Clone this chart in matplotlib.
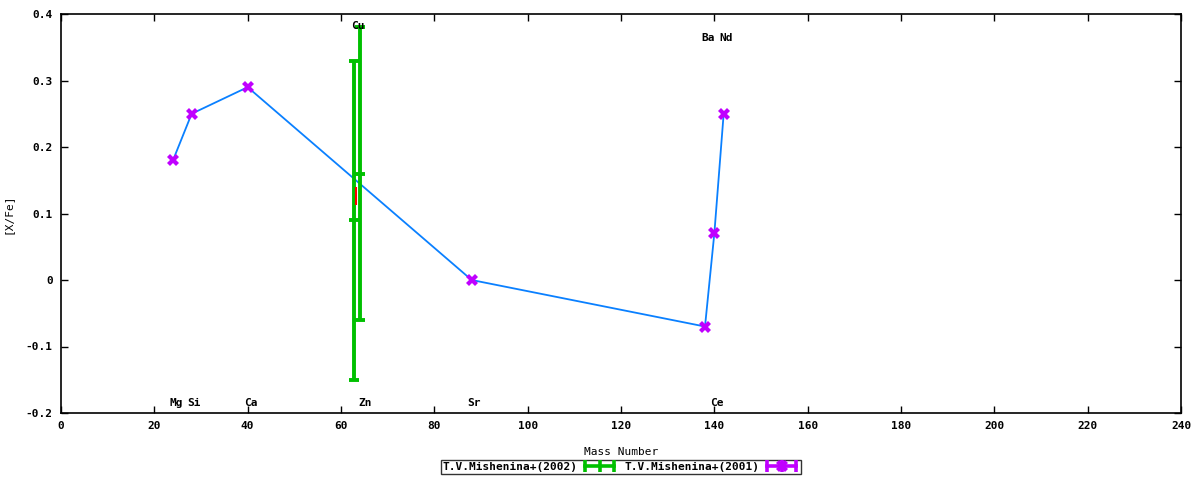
import numpy as np
import matplotlib
matplotlib.use("Agg")
import matplotlib.pyplot as plt
from matplotlib.lines import Line2D
from matplotlib.legend_handler import HandlerLine2D, HandlerTuple

###-------------data-------------###
# T.V.Mishenina+(2002) : Cu, Zn
green_x = [62.7, 64.0]
green_y = [0.09, 0.16]
green_lo = [-0.15, -0.06]
green_hi = [0.33, 0.38]

# small red bar (no legend entry)
red_x = [63.3]
red_y = [0.127]
red_err = [0.0135]

# T.V.Mishenina+(2001) : Mg Si Ca Sr Ba Ce Nd
mag_x = [24, 28, 40, 88, 138, 140, 142]
mag_y = [0.18, 0.25, 0.29, 0.0, -0.07, 0.07, 0.25]

# element labels
elem_names = ["Mg", "Si", "Ca", "Cu", "Zn", "Sr", "Ba", "Ce", "Nd"]
elem_mass = [24, 28, 40, 63, 64.5, 88, 138, 140, 142]
elem_y = [-0.185, -0.185, -0.185, 0.382, -0.185, -0.185, 0.364, -0.185, 0.364]

GREEN = "#00c000"
BLUE = "#0a80ff"
MAG = "#c000ff"

plt.rcParams['font.family'] = ['DejaVu Sans Mono']
plt.rcParams['font.weight'] = 'bold'
plt.rcParams['font.size'] = 8

fig = plt.figure(figsize=(12, 4.8), dpi=100)
ax = fig.add_axes([61/1200, 1-413/480, 1120/1200, 399/480])

###-------------green error bars-------------###
gy = np.array(green_y)
yerr = [gy - np.array(green_lo), np.array(green_hi) - gy]
ax.errorbar(green_x, green_y, yerr=yerr, fmt='none', ecolor=GREEN,
            elinewidth=2.8, capsize=3.5, capthick=2.8, zorder=3)
ax.plot(green_x, green_y, linestyle='none', marker='_', markersize=7,
        markeredgewidth=2.8, color=GREEN, zorder=3)

ax.errorbar(red_x, red_y, yerr=red_err, fmt='none', ecolor='red',
            elinewidth=1.5, capsize=0, zorder=4)

###-------------magenta points + blue line-------------###
ax.plot(mag_x, mag_y, color=BLUE, linewidth=1.3, zorder=2)
ax.plot(mag_x, mag_y, linestyle='none', marker='X', markersize=8.5,
        color=MAG, markeredgewidth=0, zorder=5)

###-------------element labels-------------###
for name, m, yy in zip(elem_names, elem_mass, elem_y):
    ax.text(m + 0.6, yy, name, ha='center', va='center', fontsize=8,
            fontweight='bold', zorder=6)

###-------------axes-------------###
ax.set_xlim(0, 240)
ax.set_ylim(-0.2, 0.4)
ax.set_xticks(np.arange(0, 241, 20))
ax.set_yticks(np.arange(-0.2, 0.41, 0.1))
ax.set_yticklabels(["-0.2", "-0.1", "0", "0.1", "0.2", "0.3", "0.4"])
ax.tick_params(direction='in', length=5, width=1, top=True, right=True,
               pad=6)
for s in ax.spines.values():
    s.set_linewidth(1.2)
ax.set_xlabel("Mass Number")
ax.set_ylabel("[X/Fe]")
ax.xaxis.set_label_coords(0.5, -0.085)
ax.yaxis.set_label_coords(-0.043, 0.5)

###-------------legend-------------###
g_bar = Line2D([], [], color=GREEN, linewidth=2.6, marker='|',
               markersize=9, markeredgewidth=2.6)
m_bar = Line2D([], [], color=MAG, linewidth=2.6, marker='|',
               markersize=9, markeredgewidth=2.6)
m_pt = Line2D([], [], linestyle='none', marker='X', markersize=8.5,
              color=MAG, markeredgewidth=0)
leg = fig.legend([g_bar, (m_bar, m_pt)],
                 ["T.V.Mishenina+(2002)", "T.V.Mishenina+(2001)"],
                 handler_map={m_pt: HandlerLine2D(numpoints=1),
                              tuple: HandlerTuple(ndivide=1)},
                 loc='center', bbox_to_anchor=(621/1200, 1-467/480),
                 ncol=2, markerfirst=False, numpoints=3, frameon=True,
                 fancybox=False, edgecolor='black', handlelength=3.2,
                 handletextpad=0.4, columnspacing=0.6, borderpad=0.15,
                 borderaxespad=0, fontsize=8)
leg.get_frame().set_linewidth(1.0)

plt.savefig("out.png", dpi=100)
